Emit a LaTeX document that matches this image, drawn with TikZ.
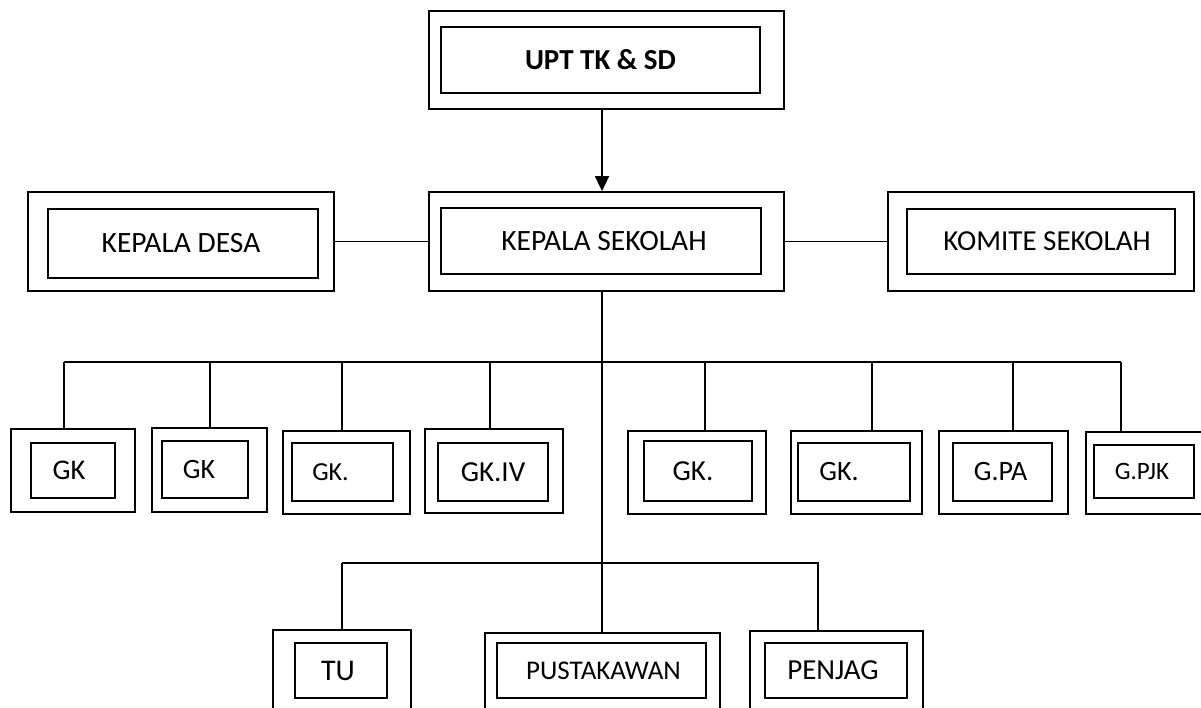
\documentclass[tikz,border=0pt]{standalone}
\usepackage{fontspec}
\setmainfont{Carlito}
\usetikzlibrary{arrows.meta,positioning}

\tikzset{
  outbox/.style={draw, line width=1.8pt, inner sep=0pt},
  inbox/.style={draw, line width=1.5pt, inner sep=0pt, font=\fontsize{#1}{#1}\selectfont},
  inbox/.default=29pt,
  tshift/.style={execute at begin node={\hspace*{#1}\hspace*{#1}}},
  conn/.style={line width=1.8pt},
}

\begin{document}
\begin{tikzpicture}[x=1pt, y=-1pt, >={Triangle[width=14pt,length=15pt]}]
  \clip (0,0) rectangle (1201,708);
  \coordinate (spine) at (602,0);

  % Top rows
  \node[outbox, minimum width=355pt, minimum height=98pt] (upt) at (606.5,60) {};
  \node[inbox, minimum width=319pt, minimum height=66pt, font=\fontsize{29pt}{29pt}\selectfont\bfseries] (upt-t) at (600.5,60) {UPT TK \& SD};

  \node[outbox, minimum width=306pt, minimum height=99pt] (kd) at (181,241.5) {};
  \node[inbox=29.5pt, minimum width=270pt, minimum height=69pt, tshift=-2pt] (kd-t) at (183,243.5) {KEPALA DESA};

  \node[outbox, minimum width=355pt, minimum height=99pt] (ks) at (606.5,241.5) {};
  \node[inbox=29.5pt, minimum width=320pt, minimum height=66pt, tshift=3pt] (ks-t) at (601,241) {KEPALA SEKOLAH};

  \node[outbox, minimum width=306pt, minimum height=99pt] (kom) at (1041,241.5) {};
  \node[inbox, minimum width=268pt, minimum height=65pt, tshift=6pt] (kom-t) at (1041,241.5) {KOMITE SEKOLAH};

  % Teachers
  \node[outbox, minimum width=124pt, minimum height=83pt] (gk1) at (73,470.5) {};
  \node[inbox=28.5pt, minimum width=84pt, minimum height=55pt, tshift=-4pt] (gk1-t) at (73,470.5) {GK};
  \node[outbox, minimum width=115pt, minimum height=84pt] (gk2) at (209.5,470) {};
  \node[inbox=28pt, minimum width=86pt, minimum height=57pt, tshift=-6pt] (gk2-t) at (205,469.5) {GK};
  \node[outbox, minimum width=127pt, minimum height=83pt] (gk3) at (346.5,472.5) {};
  \node[inbox=26pt, minimum width=101pt, minimum height=58pt, tshift=-12pt] (gk3-t) at (342.5,472) {GK.};
  \node[outbox, minimum width=138pt, minimum height=84pt] (gk4) at (494,471) {};
  \node[inbox, minimum width=110pt, minimum height=58pt] (gk4-t) at (493,472) {GK.IV};
  \node[outbox, minimum width=138pt, minimum height=83pt] (gk5) at (697,472.5) {};
  \node[inbox, minimum width=108pt, minimum height=60pt, tshift=-5pt] (gk5-t) at (698,471) {GK.};
  \node[outbox, minimum width=131pt, minimum height=83pt] (gk6) at (856.5,472.5) {};
  \node[inbox=28pt, minimum width=112pt, minimum height=58pt, tshift=-15pt] (gk6-t) at (854,472) {GK.};
  \node[outbox, minimum width=129pt, minimum height=83pt] (gpa) at (1003.5,472.5) {};
  \node[inbox=28pt, minimum width=99pt, minimum height=58pt, tshift=-2pt] (gpa-t) at (1002.5,472) {G.PA};
  \node[outbox, minimum width=120pt, minimum height=82pt] (gpjk) at (1146,473) {};
  \node[inbox=25pt, minimum width=100pt, minimum height=53pt, tshift=-2pt] (gpjk-t) at (1144,471.5) {G.PJK};

  % Staff
  \node[outbox, minimum width=138pt, minimum height=100pt] (tu) at (342,680) {};
  \node[inbox=30pt, minimum width=92pt, minimum height=55pt, tshift=-3pt] (tu-t) at (341,670.5) {TU};
  \node[outbox, minimum width=235pt, minimum height=97pt] (pust) at (602.5,681.5) {};
  \node[inbox=27pt, minimum width=209pt, minimum height=55pt, tshift=2pt] (pust-t) at (601.5,670.5) {PUSTAKAWAN};
  \node[outbox, minimum width=173pt, minimum height=99pt] (penj) at (836.5,680.5) {};
  \node[inbox, minimum width=142pt, minimum height=55pt, tshift=-3pt] (penj-t) at (836,670.5) {PENJAG};

  % Lines
  \draw[conn,->] (upt.south -| spine) -- (ks.north -| spine);
  \draw[conn] (kd) -- (ks);
  \draw[conn] (ks) -- (kom);
  \draw[conn] (ks.south -| spine) -- (pust.north -| spine);

  \draw[conn] (64,362) -- (1121,362);
  \foreach \x/\n in {64/gk1,210/gk2,342/gk3,490/gk4,705/gk5,872/gk6,1013/gpa,1121/gpjk}
    \draw[conn] (\x,362) -- (\x,362 |- \n.north);

  \draw[conn] (342,563) -- (819,563);
  \foreach \x/\n in {342/tu,818/penj}
    \draw[conn] (\x,563) -- (\x,563 |- \n.north);
\end{tikzpicture}
\end{document}
